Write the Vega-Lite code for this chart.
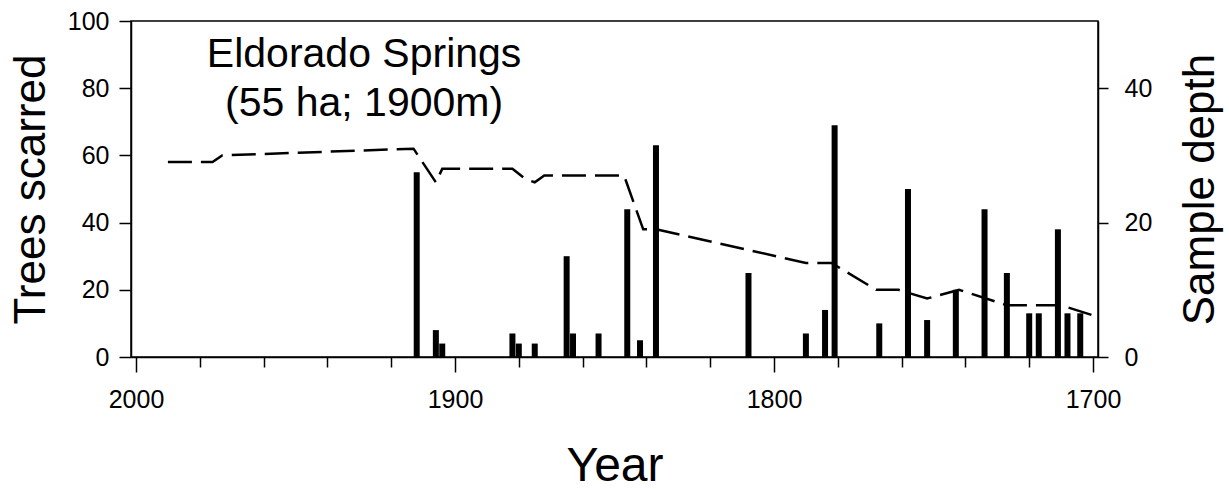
{
  "$schema": "https://vega.github.io/schema/vega-lite/v6.json",
  "width": 967,
  "height": 336,
  "autosize": {"type": "none"},
  "padding": {"left": 131, "top": 21, "right": 131, "bottom": 132},
  "background": "white",
  "config": {
    "font": "Liberation Sans",
    "view": {"stroke": "black", "strokeWidth": 1.5},
    "axis": {
      "domainColor": "black", "domainWidth": 1.5, "tickColor": "black", "tickWidth": 1.5,
      "labelColor": "black", "titleColor": "black", "labelFont": "Liberation Sans", "titleFont": "Liberation Sans",
      "titleFontWeight": "normal", "grid": false, "labelFontSize": 25, "titleFontSize": 44
    }
  },
  "datasets": {
    "scars": [
      {"year": 1912, "trees": 55}, {"year": 1906, "trees": 8}, {"year": 1904, "trees": 4},
      {"year": 1882, "trees": 7}, {"year": 1880, "trees": 4}, {"year": 1875, "trees": 4},
      {"year": 1865, "trees": 30}, {"year": 1863, "trees": 7}, {"year": 1855, "trees": 7},
      {"year": 1846, "trees": 44}, {"year": 1842, "trees": 5}, {"year": 1837, "trees": 63},
      {"year": 1808, "trees": 25}, {"year": 1790, "trees": 7}, {"year": 1784, "trees": 14},
      {"year": 1781, "trees": 69}, {"year": 1767, "trees": 10}, {"year": 1758, "trees": 50},
      {"year": 1752, "trees": 11}, {"year": 1743, "trees": 20}, {"year": 1734, "trees": 44},
      {"year": 1727, "trees": 25}, {"year": 1720, "trees": 13}, {"year": 1717, "trees": 13},
      {"year": 1711, "trees": 38}, {"year": 1708, "trees": 13}, {"year": 1704, "trees": 13}
    ],
    "depth": [
      {"year": 1990, "depth": 29}, {"year": 1976, "depth": 29}, {"year": 1973, "depth": 30},
      {"year": 1913, "depth": 31}, {"year": 1906, "depth": 26}, {"year": 1904, "depth": 28},
      {"year": 1882, "depth": 28}, {"year": 1878, "depth": 26.5}, {"year": 1875, "depth": 26},
      {"year": 1872, "depth": 27}, {"year": 1847, "depth": 27}, {"year": 1841, "depth": 19},
      {"year": 1837, "depth": 19}, {"year": 1790, "depth": 14}, {"year": 1782, "depth": 14},
      {"year": 1768, "depth": 10}, {"year": 1761, "depth": 10}, {"year": 1752, "depth": 8.7},
      {"year": 1742, "depth": 10}, {"year": 1727, "depth": 7.7}, {"year": 1710, "depth": 7.7},
      {"year": 1700, "depth": 6.2}
    ]
  },
  "layer": [
    {
      "layer": [
        {
          "data": {"name": "scars"},
          "mark": {"type": "bar", "size": 6, "color": "black"},
          "encoding": {
            "x": {
              "field": "year", "type": "quantitative",
              "scale": {"domain": [1700, 2000], "reverse": true, "nice": false, "zero": false},
              "axis": {
                "title": "Year", "titleFontSize": 48, "titlePadding": 30,
                "values": [1700, 1720, 1740, 1760, 1780, 1800, 1820, 1840, 1860, 1880, 1900, 1920, 1940, 1960, 1980, 2000],
                "labelExpr": "datum.value % 100 === 0 ? datum.value : ''",
                "tickSize": {"condition": {"test": "datum.value % 100 === 0", "value": 15}, "value": 10},
                "labelPadding": 15, "labelFlush": false, "labelOverlap": false
              }
            },
            "y": {
              "field": "trees", "type": "quantitative",
              "scale": {"domain": [0, 100], "nice": false},
              "axis": {
                "title": "Trees scarred", "values": [0, 20, 40, 60, 80, 100],
                "tickSize": 12, "labelPadding": 10, "titlePadding": 14, "labelFlush": false
              }
            }
          }
        },
        {
          "data": {"values": [{"label": "Eldorado Springs"}]},
          "mark": {"type": "text", "font": "Liberation Sans", "fontSize": 41, "align": "center", "baseline": "alphabetic", "color": "black"},
          "encoding": {
            "x": {"datum": 1928.5, "type": "quantitative"},
            "y": {"datum": 86.2, "type": "quantitative"},
            "text": {"field": "label"}
          }
        },
        {
          "data": {"values": [{"label": "(55 ha; 1900m)"}]},
          "mark": {"type": "text", "font": "Liberation Sans", "fontSize": 41, "align": "center", "baseline": "alphabetic", "color": "black"},
          "encoding": {
            "x": {"datum": 1928.5, "type": "quantitative"},
            "y": {"datum": 71.8, "type": "quantitative"},
            "text": {"field": "label"}
          }
        }
      ]
    },
    {
      "data": {"name": "depth"},
      "mark": {"type": "line", "color": "black", "strokeWidth": 2.5, "strokeDash": [24, 9]},
      "encoding": {
        "x": {"field": "year", "type": "quantitative"},
        "y": {
          "field": "depth", "type": "quantitative",
          "scale": {"domain": [0, 50], "nice": false},
          "axis": {
            "orient": "right", "title": "Sample depth", "values": [0, 20, 40],
            "tickSize": 10, "labelPadding": 16, "titlePadding": 27,
            "titleAngle": -90, "titleBaseline": "top", "labelFlush": false
          }
        }
      }
    }
  ],
  "resolve": {"scale": {"y": "independent"}}
}
